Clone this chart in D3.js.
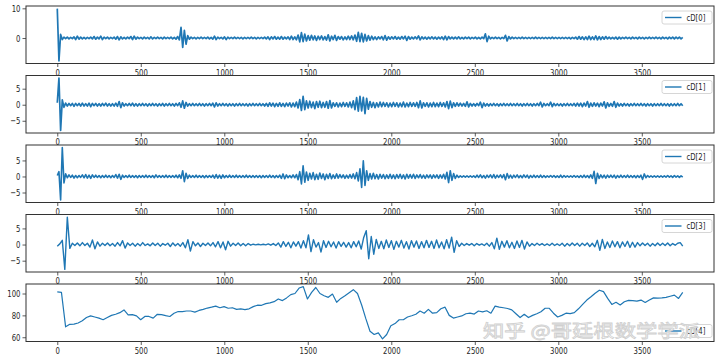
<!DOCTYPE html>
<html>
<head>
<meta charset="utf-8">
<script src="https://cdn.jsdelivr.net/npm/d3@7/dist/d3.min.js"></script>
<style>
  html, body { margin: 0; padding: 0; background: #fff; }
  svg { display: block; }
  .tick text { font-family: "DejaVu Sans", sans-serif; font-size: 9.6px; fill: #262626; }
  .tick line { stroke: #333; stroke-width: 0.8; }
</style>
</head>
<body>
<div id="chart"></div>
<script>
// length of the original signal (x axis runs 0 .. signalEnd)
const signalEnd = 3745;
const xTicks = [0, 500, 1000, 1500, 2000, 2500, 3000, 3500];

// detail coefficients, level 0 (finest)
const cD0 = [
  9.9,-7.7,1.2,-0.5,0.3,-0.2,0.3,-0.3,0.2,-0.2,0.4,-0.5,0.6,-0.4,0.3,-0.3,0.2,-0.3,0.2,-0.2,0.3,-0.3,0.5,-0.4,0.3,
  -0.3,0.6,-0.5,0.3,-0.2,0.3,-0.3,0.2,-0.2,0.3,-0.4,0.5,-0.6,0.4,-0.3,0.2,-0.3,0.3,-0.2,0.5,-0.5,0.6,-0.4,0.3,-0.2,
  0.2,-0.3,0.3,-0.2,0.2,-0.3,0.4,-0.3,0.2,-0.2,0.3,-0.2,0.2,-0.3,0.3,-0.2,0.2,-0.2,0.3,-0.3,0.2,-0.4,0.5,-0.6,3.6,
  -3.2,2.6,-2.1,0.8,-0.4,0.3,-0.2,0.2,-0.3,0.2,-0.2,0.3,-0.2,0.2,-0.2,0.3,-0.3,0.2,-0.4,0.6,-0.5,0.3,-0.2,0.2,-0.3,
  0.4,-0.5,0.3,-0.2,0.2,-0.2,0.3,-0.2,0.2,-0.2,0.2,-0.3,0.2,-0.2,0.2,-0.2,0.3,-0.2,0.2,-0.3,0.2,-0.2,0.2,-0.2,0.3,
  -0.3,0.4,-0.5,0.4,-0.3,0.5,-0.4,0.3,-0.4,0.5,-0.4,0.3,-0.3,0.4,-0.5,0.6,-0.5,0.4,-0.6,1.0,-1.3,1.8,-1.2,1.3,-1.0,
  0.8,-0.7,0.9,-0.6,0.7,-0.8,0.6,-0.5,0.7,-0.6,0.5,-0.7,1.1,-1.0,0.6,-0.5,0.9,-0.8,0.5,-0.4,0.5,-0.6,0.4,-0.5,0.6,
  -0.5,0.7,-0.6,1.0,-1.1,1.9,-1.2,1.6,-1.3,1.2,-1.0,0.8,-0.7,0.6,-0.5,0.4,-0.5,0.4,-0.3,0.5,-0.6,0.8,-0.7,0.4,-0.4,
  0.4,-0.3,0.5,-0.4,0.3,-0.4,0.5,-0.3,0.6,-0.8,0.5,-0.4,0.3,-0.3,0.4,-0.3,0.7,-0.6,0.4,-0.3,0.3,-0.4,0.3,-0.3,0.4,
  -0.3,0.3,-0.4,0.3,-0.3,0.4,-0.5,0.6,-0.6,0.5,-0.3,0.3,-0.3,0.3,-0.3,0.4,-0.3,0.2,-0.3,0.3,-0.2,0.3,-0.3,0.2,-0.2,
  0.3,-0.3,0.2,-0.3,0.3,-0.2,1.4,-1.2,0.6,-0.3,0.2,-0.2,0.3,-0.2,0.2,-0.3,0.2,-0.2,0.9,-1.0,0.5,-0.3,0.3,-0.2,0.2,
  -0.2,0.2,-0.2,0.3,-0.2,0.2,-0.2,0.2,-0.2,0.2,-0.2,0.3,-0.2,0.2,-0.2,0.2,-0.2,0.2,-0.2,0.2,-0.2,0.3,-0.2,0.2,-0.2,
  0.2,-0.2,0.2,-0.2,0.2,-0.2,0.2,-0.3,0.2,-0.2,0.3,-0.4,0.5,-0.4,0.4,-0.5,0.4,-0.5,0.6,-0.5,0.4,-0.5,0.7,-0.6,0.5,
  -0.5,0.4,-0.4,0.5,-0.3,0.3,-0.3,0.2,-0.3,0.3,-0.4,0.3,-0.3,0.2,-0.2,0.3,-0.2,0.2,-0.3,0.3,-0.2,0.2,-0.3,0.3,-0.2,
  0.2,-0.3,0.2,-0.2,0.3,-0.2,0.2,-0.2,0.3,-0.2,0.2,-0.3,0.3,-0.2,0.2,-0.3,0.3,-0.2,0.3,-0.3,0.3,-0.2,0.3,-0.3,0.2
];

const cD1 = [
  0.6,8.3,-8.0,1.5,-0.8,0.5,-0.4,0.4,-0.3,0.4,-0.5,0.4,-0.3,0.4,-0.4,0.5,-0.4,0.3,-0.4,0.5,-0.6,0.4,-0.3,0.4,-0.4,
  0.3,-0.4,0.4,-0.3,0.5,-0.4,0.3,-0.4,0.3,-0.4,0.5,-0.5,1.0,-0.9,0.6,-0.4,0.3,-0.3,0.4,-0.3,0.5,-0.4,0.3,-0.4,0.3,
  -0.3,0.4,-0.3,0.3,-0.4,0.3,-0.3,0.4,-0.3,0.3,-0.4,0.3,-0.3,0.4,-0.4,0.3,-0.3,0.4,-0.3,0.3,-0.4,0.4,-0.3,0.6,-0.8,
  1.2,-1.1,0.7,-0.4,0.3,-0.3,0.4,-0.3,0.3,-0.3,0.4,-0.3,0.3,-0.4,0.3,-0.3,0.4,-0.3,0.5,-0.7,0.6,-0.4,0.3,-0.3,0.4,
  -0.3,0.3,-0.4,0.3,-0.3,0.3,-0.4,0.3,-0.3,0.4,-0.3,0.3,-0.3,0.3,-0.4,0.3,-0.3,0.4,-0.3,0.3,-0.3,0.4,-0.3,0.3,-0.4,
  0.4,-0.5,0.6,-0.4,0.5,-0.6,0.4,-0.5,0.6,-0.5,0.4,-0.6,0.5,-0.4,0.6,-0.7,0.5,-0.6,0.8,-1.0,1.6,-1.8,2.6,-1.5,1.2,
  -1.0,1.1,-0.9,0.8,-1.2,1.0,-0.8,1.1,-0.9,0.7,-0.8,1.0,-1.1,1.3,-1.0,0.6,-0.5,0.6,-0.7,0.5,-0.6,0.7,-0.5,0.6,-0.7,
  0.8,-0.9,1.2,-1.5,2.2,-2.0,2.6,-1.9,2.3,-2.8,2.0,-1.4,1.0,-0.8,0.7,-0.9,0.6,-0.7,0.8,-0.6,0.7,-0.5,0.6,-0.7,0.5,
  -0.6,0.7,-0.5,0.6,-0.7,0.5,-0.6,0.8,-0.7,0.5,-0.6,0.7,-0.5,0.6,-0.5,0.7,-0.9,1.2,-1.0,0.6,-0.5,0.6,-0.7,0.5,-0.6,
  0.7,-0.6,0.5,-0.6,0.7,-0.5,0.6,-0.7,1.0,-1.2,1.1,-0.9,0.6,-0.5,0.6,-0.4,0.5,-0.4,0.4,-0.5,0.9,-0.7,0.4,-0.4,0.3,
  -0.4,0.4,-0.3,0.8,-0.9,0.5,-0.4,0.3,-0.4,0.3,-0.3,0.4,-0.3,0.3,-0.4,0.3,-0.3,0.4,-0.3,0.3,-0.3,0.4,-0.3,0.3,-0.3,
  0.4,-0.3,0.3,-0.4,0.3,-0.3,0.4,-0.3,0.3,-0.4,0.3,-0.3,0.4,-0.3,0.8,-0.7,0.4,-0.3,0.3,-0.3,0.8,-0.6,0.4,-0.3,0.3,
  -0.3,0.3,-0.4,0.3,-0.3,0.4,-0.3,0.3,-0.3,0.4,-0.4,0.5,-0.4,0.5,-0.6,0.5,-0.4,1.0,-0.8,0.5,-0.5,0.6,-0.4,0.5,-0.6,
  0.5,-0.4,0.9,-1.0,0.6,-0.5,0.4,-0.5,1.0,-0.8,0.5,-0.4,0.3,-0.4,0.4,-0.3,0.3,-0.4,0.3,-0.3,0.4,-0.3,0.3,-0.3,0.4,
  -0.3,0.3,-0.4,0.3,-0.3,0.3,-0.4,0.3,-0.3,0.3,-0.3,0.4,-0.3,0.3,-0.3,0.3,-0.4,0.3,-0.3,0.3,-0.3,0.4,-0.3,0.3,-0.3
];

const cD2 = [
  0.3,1.5,-7.3,9.0,-2.0,0.8,-0.4,0.5,-0.3,0.4,-0.5,0.3,-0.4,0.3,-0.3,0.5,-0.4,0.6,-0.5,0.4,-0.6,0.5,-0.3,0.4,-0.3,
  0.3,-0.4,0.3,-0.3,0.4,-0.3,0.3,-0.4,0.3,-0.3,0.6,-0.5,0.7,-0.9,0.4,-0.3,0.3,-0.3,0.4,-0.3,0.3,-0.3,0.3,-0.4,0.3,
  -0.3,0.3,-0.3,0.4,-0.3,0.3,-0.3,0.3,-0.4,0.5,-0.3,0.3,-0.3,0.3,-0.3,0.4,-0.3,0.3,-0.3,0.3,-0.3,0.4,-0.4,0.5,-0.6,
  1.8,-1.6,1.0,-0.6,0.4,-0.3,0.3,-0.3,0.4,-0.3,0.3,-0.3,0.3,-0.4,0.3,-0.3,0.3,-0.3,0.4,-0.5,0.6,-0.5,0.4,-0.6,0.5,
  -0.4,0.3,-0.3,0.4,-0.3,0.3,-0.3,0.4,-0.3,0.3,-0.3,0.3,-0.3,0.4,-0.3,0.3,-0.3,0.3,-0.3,0.3,-0.3,0.3,-0.4,0.3,-0.3,
  0.3,-0.3,0.4,-0.3,0.3,-0.4,0.3,-0.3,0.4,-0.6,0.8,-0.7,0.5,-0.4,0.3,-0.4,0.5,-0.4,0.6,-1.0,1.5,-2.3,3.3,-1.8,1.4,
  -1.2,1.0,-0.8,1.2,-1.0,0.7,-0.9,1.1,-0.6,0.8,-1.0,0.7,-0.6,0.9,-0.7,0.5,-0.6,0.8,-0.5,0.6,-0.4,0.5,-0.6,0.4,-0.5,
  0.6,-0.5,0.8,-0.7,1.2,-1.4,2.4,-3.4,4.9,-2.8,1.8,-1.2,0.9,-0.8,1.0,-0.7,0.6,-0.8,0.7,-0.5,0.6,-0.7,0.5,-0.6,0.7,
  -0.6,0.5,-0.7,0.6,-0.5,0.7,-0.6,0.5,-0.8,0.7,-0.5,0.6,-0.5,0.7,-0.6,0.5,-0.4,0.6,-0.5,0.4,-0.6,0.5,-0.4,0.5,-0.6,
  0.5,-0.4,0.5,-0.6,0.5,-0.5,0.7,-0.8,1.3,-1.9,1.8,-1.2,0.9,-0.6,0.4,-0.3,0.2,-0.2,0.2,-0.2,0.2,-0.2,0.2,-0.2,0.2,
  -0.3,0.4,-0.3,0.5,-0.4,0.3,-0.5,0.4,-0.3,0.5,-0.4,0.6,-0.5,0.4,-0.3,0.5,-0.4,0.6,-1.0,0.9,-0.5,0.4,-0.5,0.4,-0.3,
  0.5,-0.4,0.3,-0.4,0.5,-0.3,0.4,-0.5,0.3,-0.3,0.4,-0.3,0.3,-0.3,0.4,-0.3,0.3,-0.3,0.2,-0.2,0.3,-0.2,0.3,-0.3,0.2,
  -0.3,0.4,-0.3,0.3,-0.2,0.2,-0.2,0.2,-0.2,0.3,-0.2,0.2,-0.3,0.3,-0.3,0.4,-0.3,0.3,-0.4,0.5,-0.6,1.6,-2.2,1.0,-0.6,
  0.5,-0.4,0.4,-0.5,0.4,-0.3,0.4,-0.3,0.4,-0.5,0.3,-0.3,0.4,-0.3,0.3,-0.3,0.4,-0.3,0.3,-0.3,0.3,-0.4,0.3,-0.3,0.4,
  -0.9,0.8,-0.4,0.3,-0.2,0.2,-0.2,0.2,-0.2,0.2,-0.2,0.2,-0.2,0.2,-0.2,0.3,-0.2,0.2,-0.3,0.3,-0.2,0.2,-0.3,0.2,-0.2
];

const cD3 = [
  -0.5,0.2,1.3,-7.7,8.5,-1.2,0.4,-0.3,0.5,-0.4,0.6,-0.3,0.4,-0.8,1.4,-1.3,0.8,-0.5,0.4,-0.3,0.5,-0.4,0.3,-0.5,0.6,
  -0.4,1.2,-1.1,0.5,-0.3,0.4,-0.5,0.3,-0.4,0.6,-0.3,0.2,-0.4,0.5,-0.3,0.4,-0.5,0.3,-0.2,0.4,-0.6,0.5,-0.4,0.3,-0.5,
  0.6,-1.0,1.5,-2.0,0.9,-0.4,0.5,-0.6,0.4,-0.3,0.5,-0.4,0.6,-0.7,0.9,-1.0,0.8,-1.6,1.0,-0.5,0.4,-0.3,0.5,-0.4,0.3,
  -0.4,0.3,-0.2,0.1,-0.1,0.1,-0.1,0.1,-0.1,0.2,-0.2,0.3,-0.3,0.5,-0.8,0.9,-0.6,0.7,-1.0,0.8,-0.5,0.9,-1.1,1.2,-1.0,
  3.0,-2.2,1.5,-0.8,0.6,-2.3,1.2,-0.9,1.0,-0.7,0.8,-1.1,0.9,-0.6,0.7,-0.8,0.6,-1.0,0.9,-0.7,1.1,-1.4,2.2,4.3,-4.4,
  2.5,-3.0,1.6,-1.2,1.0,-1.3,1.4,-0.9,1.2,-1.5,1.0,-0.8,1.3,-1.1,0.9,-1.4,1.2,-0.8,1.1,-1.2,0.9,-1.0,1.3,-0.9,1.0,
  -1.2,1.4,-1.0,0.8,-1.3,1.5,-1.1,2.3,-2.4,1.2,-0.6,0.4,-0.3,0.3,-0.2,0.3,-0.4,0.3,-0.2,0.2,-0.3,0.4,-0.5,0.6,-1.3,
  2.0,-1.5,1.0,-0.8,1.2,-1.0,0.7,-1.2,1.1,-0.9,1.3,-1.4,0.8,-0.5,0.3,-0.3,0.4,-0.2,0.3,-0.3,0.2,-0.3,0.4,-0.3,0.2,
  -0.3,0.4,-0.5,0.3,-0.4,0.5,-0.3,0.4,-0.5,0.4,-0.3,0.5,-0.6,0.4,-0.7,1.3,-1.8,1.6,-1.2,0.8,-0.9,1.1,-0.7,0.9,-1.0,
  0.8,-0.6,1.0,-0.9,0.7,-0.8,0.6,-0.4,0.5,-0.3,0.4,-0.5,0.3,-0.4,0.5,-0.3,0.4,-0.3,0.5,-0.4,0.3,-0.2,0.4,0.6,-0.5
];

// coarsest level (smooth trend)
const cD4 = [
  101.5,101,69.5,71.8,72,73,75,78,79.5,78.5,
  77.5,76,78,80,81,82.5,85,80.5,80.7,79.5,
  76,79,79,77.5,81,80.7,79.7,79,82,83.5,
  83.5,84,84,83,84.5,85.5,86.7,87.5,88.5,87,
  88,86.5,87,85.5,86,85.2,86,88,89.3,89.2,
  90.7,91.5,92.5,95,93.5,96,99,100,105,106.3,
  95,101,105.5,100,98,96.5,99.5,92,95.5,98,
  100.7,103.5,100,89.5,77,65.5,62.5,64,58.5,62.5,
  70.5,72.5,76,76,78.5,79.7,81,84,82,85.5,
  82,82.5,86,87.5,80,77.5,78.5,79.5,81.5,82,
  81.2,84,83.2,84.2,82,88.5,87.5,87,86.3,85,
  81.5,78,81,78,80,81.5,83.3,86.5,86.5,82,
  78.5,80,82,81.6,82.5,86,90,94,97,100.3,
  103,101.7,95.5,90,92,89.5,92.5,93.7,93.5,93,
  94,91.8,94,96,95.8,96,96.5,97.5,98.5,95.5,
  101
];

const labels = ["cD[0]", "cD[1]", "cD[2]", "cD[3]", "cD[4]"];
const series = [cD0, cD1, cD2, cD3, cD4];
const yTickSets = [[0, 10], [-5, 0, 5], [-5, 0, 5], [-5, 0, 5], [60, 80, 100]];

const width = 720, height = 360;
const left = 26, right = 714, firstTop = 6, panelH = 57.5, gap = 12;
const textScale = 0.72;   // the reference text is horizontally squeezed
const lineColor = "#1f77b4";
const lineWidths = [1.7, 1.7, 1.6, 1.4, 1.2];

const svg = d3.select("#chart").append("svg")
  .attr("width", width)
  .attr("height", height);

series.forEach((values, k) => {
  const top = firstTop + k * (panelH + gap);
  const bottom = top + panelH;
  const n = values.length;

  // matplotlib-like 5% margins
  const xPad = signalEnd * 0.05;
  const x = d3.scaleLinear()
    .domain([-xPad, signalEnd + xPad])
    .range([left, right]);

  const [lo, hi] = d3.extent(values);
  const yPad = (hi - lo) * 0.05;
  const y = d3.scaleLinear()
    .domain([lo - yPad, hi + yPad])
    .range([bottom, top]);

  const g = svg.append("g");

  const line = d3.line()
    .x((d, i) => x(i * signalEnd / (n - 1)))
    .y(d => y(d));

  g.append("path")
    .datum(values)
    .attr("fill", "none")
    .attr("stroke", lineColor)
    .attr("stroke-width", lineWidths[k])
    .attr("stroke-linejoin", "round")
    .attr("d", line);

  // axes
  const xAxis = g.append("g")
    .attr("transform", `translate(0,${bottom})`)
    .call(d3.axisBottom(x).tickValues(xTicks).tickSize(3.5).tickPadding(1.7).tickFormat(d3.format("d")));
  xAxis.select(".domain").remove();
  xAxis.selectAll(".tick text").attr("transform", `scale(${textScale},1)`);

  const yAxis = g.append("g")
    .attr("transform", `translate(${left},0)`)
    .call(d3.axisLeft(y).tickValues(yTickSets[k]).tickSize(3.5).tickPadding(2).tickFormat(d3.format("d")));
  yAxis.select(".domain").remove();
  yAxis.selectAll(".tick text")
    .attr("x", -5.5 / textScale)
    .attr("transform", `scale(${textScale},1)`);

  // frame
  g.append("rect")
    .attr("x", left)
    .attr("y", top)
    .attr("width", right - left)
    .attr("height", panelH)
    .attr("fill", "none")
    .attr("stroke", "#333")
    .attr("stroke-width", 1);

  // legend (upper right, last one lower right)
  const lgW = 50, lgH = 13;
  const lgY = k === 4 ? bottom - 4 - lgH : top + 5;
  const lg = g.append("g").attr("transform", `translate(${right - lgW - 2},${lgY})`);
  lg.append("rect")
    .attr("width", lgW)
    .attr("height", lgH)
    .attr("rx", 2)
    .attr("fill", "#fff")
    .attr("fill-opacity", 0.8)
    .attr("stroke", "#ccc")
    .attr("stroke-width", 0.8);
  lg.append("line")
    .attr("x1", 3).attr("x2", 19.5)
    .attr("y1", lgH / 2).attr("y2", lgH / 2)
    .attr("stroke", lineColor)
    .attr("stroke-width", 1.4);
  lg.append("text")
    .attr("transform", `translate(24.5,9.8) scale(${textScale},1)`)
    .style("font-family", "DejaVu Sans, sans-serif")
    .style("font-size", "9.6px")
    .style("fill", "#262626")
    .text(labels[k]);
});

// site watermark over the last panel
svg.append("text")
  .attr("x", 483)
  .attr("y", 337)
  .attr("textLength", 217)
  .attr("lengthAdjust", "spacingAndGlyphs")
  .style("font-family", "Noto Sans CJK SC, sans-serif")
  .style("font-size", "17px")
  .style("fill", "#fff")
  .style("fill-opacity", 0.75)
  .style("stroke", "#d0d0d0")
  .style("stroke-width", 0.8)
  .text("知乎 @哥廷根数学学派");
</script>
</body>
</html>
